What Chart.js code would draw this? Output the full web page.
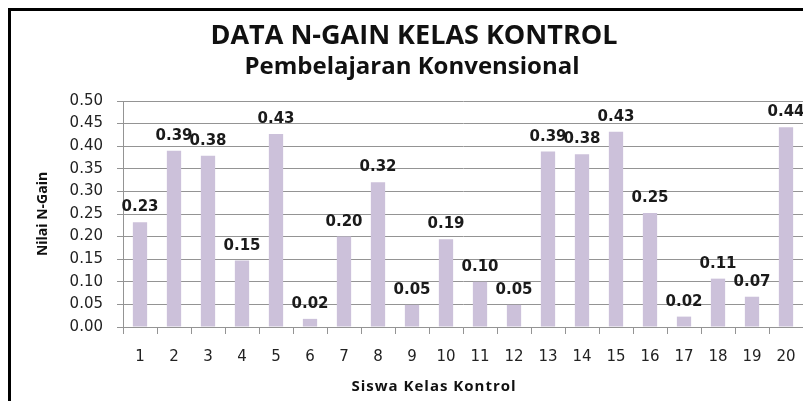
<!DOCTYPE html>
<html>
<head>
<meta charset="utf-8">
<script src="https://cdn.jsdelivr.net/npm/chart.js@4.4.0/dist/chart.umd.min.js"></script>
<style>
  body { margin: 0; background: #fff; }
  canvas { display: block; }
</style>
</head>
<body>
<canvas id="gainChart" width="803" height="401"></canvas>
<script>
const siswa = ['1','2','3','4','5','6','7','8','9','10','11','12','13','14','15','16','17','18','19','20'];
const nGain = [0.232, 0.39, 0.379, 0.147, 0.427, 0.018, 0.20, 0.32, 0.049, 0.194, 0.10, 0.049, 0.388, 0.382, 0.432, 0.252, 0.023, 0.107, 0.067, 0.442];
const yMin = 0;
const yMax = 0.5;
const yStep = 0.05;

const chartTitle = 'DATA N-GAIN KELAS KONTROL';
const chartSubtitle = 'Pembelajaran Konvensional';
const xTitle = 'Siswa Kelas Kontrol';
const yTitle = 'Nilai N-Gain';

const gridColor = '#949494';

// frame, titles, x title and the value labels on top of bars
const decorPlugin = {
    id: 'decor',
    afterDatasetsDraw(chart) {
        const ctx = chart.ctx;
        const meta = chart.getDatasetMeta(0);
        ctx.save();
        ctx.font = 'bold 15px "DejaVu Sans"';
        ctx.fillStyle = '#1a1a1a';
        ctx.textAlign = 'center';
        ctx.textBaseline = 'alphabetic';
        meta.data.forEach((bar, i) => {
            ctx.fillText(nGain[i].toFixed(2), bar.x, bar.y - 11);
        });
        ctx.restore();
    },
    afterDraw(chart) {
        const ctx = chart.ctx;
        ctx.save();
        ctx.strokeStyle = '#000';
        ctx.lineWidth = 3;
        ctx.beginPath();
        ctx.moveTo(9.5, chart.height + 5);
        ctx.lineTo(9.5, 9.5);
        ctx.lineTo(chart.width + 5, 9.5);
        ctx.stroke();

        ctx.fillStyle = '#111';
        ctx.textAlign = 'center';
        ctx.textBaseline = 'alphabetic';
        ctx.font = 'bold 27px "Open Sans"';
        ctx.fillText(chartTitle, 414, 44);
        ctx.font = 'bold 24px "Open Sans"';
        ctx.fillText(chartSubtitle, 412, 74);
        ctx.font = 'bold 15px "Open Sans"';
        ctx.letterSpacing = '1px';
        ctx.fillText(xTitle, 434, 391);
        ctx.restore();
    }
};

const ctx = document.getElementById('gainChart').getContext('2d');
new Chart(ctx, {
    type: 'bar',
    data: {
        labels: siswa,
        datasets: [{
            label: 'N-Gain',
            data: nGain,
            backgroundColor: '#ccc1da',
            borderWidth: 0,
            barPercentage: 0.42,
            categoryPercentage: 1
        }]
    },
    options: {
        responsive: false,
        devicePixelRatio: 1,
        animation: false,
        layout: {
            padding: { left: 10, right: 0, top: 101, bottom: 0 }
        },
        plugins: {
            legend: { display: false },
            tooltip: { enabled: false }
        },
        scales: {
            x: {
                afterFit(scale) {
                    scale.height = 74;
                    scale.paddingLeft = 0;
                    scale.paddingRight = 0;
                },
                grid: {
                    drawOnChartArea: false,
                    drawTicks: true,
                    tickLength: 7,
                    color: gridColor
                },
                border: { color: gridColor },
                ticks: {
                    padding: 14,
                    color: '#222',
                    font: { family: 'DejaVu Sans', size: 15 },
                    maxRotation: 0
                }
            },
            y: {
                min: yMin,
                max: yMax,
                afterFit(scale) { scale.width = 113; },
                grid: {
                    color: gridColor,
                    tickLength: 6
                },
                border: { color: gridColor },
                ticks: {
                    stepSize: yStep,
                    padding: 14,
                    color: '#222',
                    font: { family: 'DejaVu Sans', size: 15 },
                    callback: (v) => Number(v).toFixed(2)
                },
                title: {
                    display: true,
                    text: yTitle,
                    color: '#111',
                    font: { family: 'Open Sans', size: 14, weight: 'bold' },
                    padding: { top: 25, bottom: 0 }
                }
            }
        }
    },
    plugins: [decorPlugin]
});
</script>
</body>
</html>
